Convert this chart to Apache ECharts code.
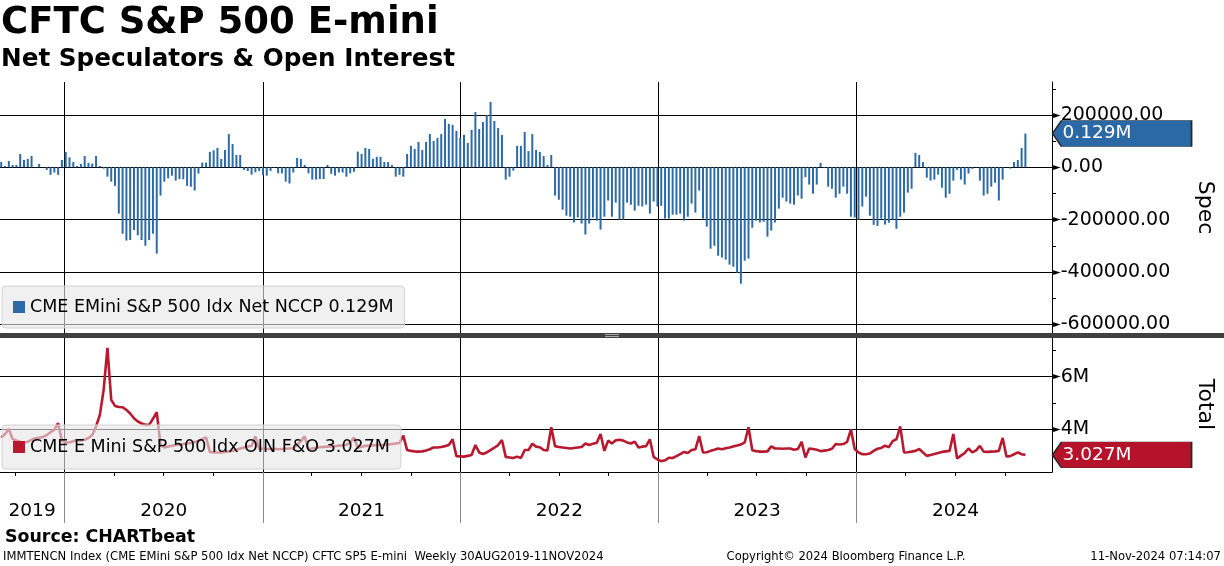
<!DOCTYPE html>
<html><head><meta charset="utf-8">
<script src="https://cdn.jsdelivr.net/npm/echarts@6/dist/echarts.min.js"></script>
<style>html,body{margin:0;padding:0;background:#fff}#c{width:1224px;height:566px}</style>
</head><body><div id="c"></div>
<script>
// ---- data (weekly, Fridays from 6 Sep 2019 to 8 Nov 2024) ----
const firstWeek = [2019, 8, 6];
const specName = 'CME EMini S&P 500 Idx Net NCCP';
const oiName = 'CME E Mini S&P 500 Idx OIN F&O';
const netSpec = [
 20000, 5000, 24000, 9000, 9000, 51000, 28000, 32000, 43000, 1000,
 13000, -1000, -10000, -29000, -20000, -29000, 28000, 59000, 38000, 20000,
 5000, 13000, 43000, 17000, 14000, 43000, 5000, -5000, -36000, -55000,
 -71000, -177000, -254000, -280000, -278000, -240000, -260000, -278000, -300000, -278000,
 -254000, -330000, -108000, -55000, -42000, -32000, -51000, -45000, -46000, -71000,
 -74000, -89000, -24000, 18000, 18000, 59000, 65000, 74000, 32000, 66000,
 127000, 89000, 47000, 47000, -10000, -14000, -28000, -19000, -14000, -29000,
 -32000, -14000, -2000, -23000, -23000, -55000, -62000, -20000, 36000, 32000,
 9000, -23000, -47000, -47000, -45000, -45000, 9000, -25000, -32000, -20000,
 -20000, -36000, -23000, -17000, 60000, 51000, 74000, 70000, 32000, 40000,
 40000, 20000, 20000, 9000, -36000, -29000, -36000, 51000, 82000, 70000,
 97000, 66000, 97000, 127000, 101000, 112000, 127000, 185000, 166000, 162000,
 139000, 112000, 124000, 93000, 143000, 211000, 146000, 173000, 200000, 250000,
 177000, 150000, 124000, -47000, -36000, -13000, 82000, 82000, 135000, 62000,
 127000, 66000, 59000, 43000, 9000, 47000, -108000, -124000, -162000, -185000,
 -189000, -211000, -192000, -215000, -257000, -215000, -192000, -204000, -238000, -189000,
 -127000, -189000, -135000, -200000, -200000, -135000, -143000, -166000, -147000, -150000,
 -143000, -177000, -131000, -150000, -147000, -196000, -196000, -181000, -181000, -177000,
 -204000, -189000, -139000, -173000, -89000, -196000, -227000, -311000, -300000, -338000,
 -345000, -353000, -372000, -380000, -403000, -445000, -357000, -349000, -231000, -204000,
 -211000, -208000, -265000, -242000, -211000, -158000, -116000, -131000, -139000, -143000,
 -108000, -120000, -38000, -66000, -101000, -66000, 17000, -3000, -74000, -82000,
 -116000, -101000, -74000, -101000, -189000, -192000, -200000, -150000, -112000, -185000,
 -220000, -224000, -196000, -219000, -212000, -200000, -235000, -189000, -173000, -97000,
 -82000, 55000, 47000, 20000, -40000, -51000, -47000, -28000, -78000, -116000,
 -101000, -51000, -10000, -47000, -66000, -24000, -6000, -1000, -51000, -108000,
 -101000, -74000, -59000, -127000, -47000, -1000, -5000, 20000, 28000, 74000,
 129000
];
// open interest, millions of contracts
const openInterest = [
 3.69, 3.82, 4.01, 3.63, 3.57, 3.53, 3.50, 3.53, 3.60, 3.66,
 3.68, 3.71, 3.78, 3.89, 3.99, 4.23, 3.57, 3.50, 3.50, 3.55,
 3.58, 3.58, 3.60, 3.67, 3.78, 4.11, 4.55, 5.50, 7.10, 5.12,
 4.89, 4.85, 4.84, 4.74, 4.60, 4.42, 4.30, 4.22, 4.17, 4.17,
 4.40, 4.65, 3.40, 3.31, 3.35, 3.37, 3.40, 3.42, 3.44, 3.46,
 3.48, 3.52, 3.56, 3.62, 3.69, 3.14, 3.12, 3.12, 3.12, 3.14,
 3.16, 3.18, 3.22, 3.27, 3.31, 3.35, 3.37, 3.73, 3.25, 3.27,
 3.25, 3.25, 3.26, 3.24, 3.25, 3.26, 3.27, 3.28, 3.40, 3.55,
 3.73, 3.25, 3.27, 3.30, 3.32, 3.33, 3.34, 3.35, 3.36, 3.38,
 3.39, 3.41, 3.50, 3.69, 3.30, 3.34, 3.37, 3.38, 3.39, 3.40,
 3.40, 3.41, 3.42, 3.44, 3.46, 3.48, 3.76, 3.21, 3.18, 3.16,
 3.15, 3.16, 3.19, 3.24, 3.31, 3.31, 3.33, 3.36, 3.40, 3.62,
 2.98, 2.97, 2.96, 2.99, 3.02, 3.40, 3.12, 3.06, 3.12, 3.21,
 3.30, 3.40, 3.59, 2.95, 2.93, 2.91, 2.96, 2.91, 3.21, 3.21,
 3.45, 3.34, 3.32, 3.21, 3.20, 4.08, 3.36, 3.33, 3.31, 3.29,
 3.27, 3.29, 3.31, 3.33, 3.46, 3.40, 3.45, 3.49, 3.82, 3.18,
 3.57, 3.46, 3.58, 3.60, 3.57, 3.50, 3.46, 3.53, 3.31, 3.34,
 3.36, 3.62, 2.95, 2.85, 2.79, 2.82, 2.92, 2.91, 2.98, 3.06,
 3.14, 3.10, 3.21, 3.24, 3.74, 3.12, 3.13, 3.18, 3.22, 3.27,
 3.24, 3.28, 3.31, 3.35, 3.38, 3.42, 3.50, 4.08, 3.20, 3.17,
 3.15, 3.15, 3.16, 3.35, 3.27, 3.27, 3.26, 3.27, 3.27, 3.22,
 3.25, 3.52, 2.93, 3.27, 3.25, 3.22, 3.17, 3.19, 3.21, 3.26,
 3.44, 3.42, 3.44, 3.52, 3.99, 3.25, 3.12, 3.05, 3.05, 3.08,
 3.18, 3.26, 3.29, 3.38, 3.32, 3.55, 3.62, 4.11, 3.12, 3.13,
 3.15, 3.18, 3.25, 3.12, 2.99, 3.02, 3.06, 3.10, 3.14, 3.16,
 3.18, 3.82, 2.89, 3.00, 3.10, 3.27, 3.12, 3.20, 3.37, 3.15,
 3.14, 3.15, 3.16, 3.18, 3.67, 2.97, 2.98, 3.05, 3.12, 3.05,
 3.027
];
const specLabelValues = [-600000, -400000, -200000, 0, 200000];
const specTickValues = [-600000, -500000, -400000, -300000, -200000, -100000, 0, 100000, 200000, 300000];
const oiLabelValues = [4, 6];
const oiTickValues = [3, 4, 5, 6, 7];
const yearStartList = [2020, 2021, 2022, 2023, 2024];
const yearLabelDates = [[2019, 10, 2], [2020, 6, 2], [2021, 6, 2], [2022, 6, 2], [2023, 6, 2], [2024, 6, 2]];

// ---- build ----
const FONT = 'DejaVu Sans';
const dates = netSpec.map((_, i) => new Date(firstWeek[0], firstWeek[1], firstWeek[2] + 7 * i).getTime());
const xMin = new Date(2019, 8, 3, 18).getTime();
const xMax = new Date(2024, 11, 27, 2).getTime();
const yearStarts = yearStartList.map(y => new Date(y, 0, 1).getTime());
const quarterTicks = [];
for (let y = 2019; y <= 2024; y++) for (let m = 0; m < 12; m += 3) {
  const t = new Date(y, m, 1).getTime();
  if (t > xMin && t < xMax) quarterTicks.push(t);
}
const yearLabelPos = yearLabelDates.map(d => new Date(d[0], d[1], d[2]).getTime());
const lastSpec = netSpec[netSpec.length - 1];
const lastOI = openInterest[openInterest.length - 1];
const specTxt = (lastSpec / 1e6).toFixed(3) + 'M';
const oiTxt = lastOI.toFixed(3) + 'M';
const specMin = -633400, specMax = 326000;
const oiMin = 2.376, oiMax = 7.51;

const tagPath = 'path://M0,13L9,0L139,0L139,26L9,26Z';
function tag(color, text) {
  return {
    silent: true, animation: false,
    symbol: tagPath, symbolSize: [139, 26], symbolOffset: [70, 0],
    itemStyle: { color: color, borderColor: '#2a2a2a', borderWidth: 0.8 },
    label: { show: true, position: [11, 13], align: 'left', verticalAlign: 'middle',
      color: '#fff', fontSize: 18.5, fontFamily: FONT, formatter: text }
  };
}
const gridLine = { color: '#000', width: 1, type: 'solid' };

const chart = echarts.init(document.getElementById('c'), null, { renderer: 'canvas' });
chart.setOption({
  animation: false,
  backgroundColor: '#fff',
  textStyle: { fontFamily: FONT },
  grid: [
    { left: 0, right: 169, top: 82, height: 251 },
    { left: 0, right: 169, top: 337, height: 135 }
  ],
  xAxis: [
    { gridIndex: 0, type: 'value', min: xMin, max: xMax,
      axisLine: { show: false, onZero: false }, axisTick: { show: false }, axisLabel: { show: false }, splitLine: { show: false } },
    { gridIndex: 1, type: 'value', min: xMin, max: xMax, position: 'bottom',
      axisLine: { show: true, onZero: false, lineStyle: { color: '#000', width: 1 } },
      axisTick: { show: true, customValues: quarterTicks, length: 4, lineStyle: { color: '#000', width: 1 } },
      axisLabel: { show: true, customValues: yearLabelPos, formatter: v => String(new Date(v).getFullYear()),
        fontSize: 18.5, color: '#000', margin: 30, fontFamily: FONT, hideOverlap: false },
      splitLine: { show: false } },
    { gridIndex: 1, type: 'value', min: xMin, max: xMax, position: 'bottom',
      axisLine: { show: false, onZero: false },
      axisTick: { show: true, customValues: yearStarts, length: 51, lineStyle: { color: '#8a8a8a', width: 1 } },
      axisLabel: { show: false }, splitLine: { show: false } }
  ],
  yAxis: [
    { gridIndex: 0, type: 'value', position: 'right', min: specMin, max: specMax,
      splitLine: { show: false },
      axisLine: { show: true, onZero: false, lineStyle: { color: '#000', width: 1 } },
      axisTick: { show: true, customValues: specTickValues, length: 4, lineStyle: { color: '#000', width: 1 } },
      axisLabel: { show: true, customValues: specLabelValues, margin: 1, color: '#000', fontSize: 19, fontFamily: FONT,
        formatter: v => '{a|\u25BA}' + v.toFixed(2), rich: { a: { fontSize: 10, color: '#000', fontFamily: FONT } } },
      name: 'Spec', nameLocation: 'middle', nameRotate: -90, nameGap: 142,
      nameTextStyle: { fontSize: 22, color: '#000', fontFamily: FONT } },
    { gridIndex: 1, type: 'value', position: 'right', min: oiMin, max: oiMax,
      splitLine: { show: false },
      axisLine: { show: true, onZero: false, lineStyle: { color: '#000', width: 1 } },
      axisTick: { show: true, customValues: oiTickValues, length: 4, lineStyle: { color: '#000', width: 1 } },
      axisLabel: { show: true, customValues: oiLabelValues, margin: 1, color: '#000', fontSize: 19, fontFamily: FONT,
        formatter: v => '{a|\u25BA}' + v + 'M', rich: { a: { fontSize: 10, color: '#000', fontFamily: FONT } } },
      name: 'Total', nameLocation: 'middle', nameRotate: -90, nameGap: 142,
      nameTextStyle: { fontSize: 22, color: '#000', fontFamily: FONT } }
  ],
  legend: [
    { data: [{ name: specName, icon: 'rect' }], left: 2, top: 286, padding: [12, 11, 12, 11],
      itemWidth: 12, itemHeight: 12, selectedMode: false,
      backgroundColor: 'rgba(230,230,230,0.62)', borderColor: '#d2d2d2', borderWidth: 1, borderRadius: 4,
      textStyle: { fontSize: 17.5, color: '#000', fontFamily: FONT },
      formatter: n => n + ' ' + specTxt },
    { data: [{ name: oiName, icon: 'rect' }], left: 2, top: 425, padding: [13, 11, 13, 11],
      itemWidth: 12, itemHeight: 12, selectedMode: false,
      backgroundColor: 'rgba(230,230,230,0.62)', borderColor: '#d2d2d2', borderWidth: 1, borderRadius: 4,
      textStyle: { fontSize: 17.5, color: '#000', fontFamily: FONT },
      formatter: n => n + ' ' + oiTxt }
  ],
  series: [
    { type: 'bar', name: specName, xAxisIndex: 0, yAxisIndex: 0, barWidth: 2, clip: false,
      itemStyle: { color: '#2d6ba8' },
      data: dates.map((d, i) => [d, netSpec[i]]),
      markLine: { silent: true, animation: false, z: 1, symbol: ['none', 'none'], label: { show: false },
        lineStyle: gridLine, emphasis: { disabled: true },
        data: yearStarts.map(t => ({ xAxis: t })).concat(specLabelValues.map(v => ({ yAxis: v }))) },
      markPoint: Object.assign(tag('#2b69a6', specTxt), { data: [{ coord: [xMax, lastSpec] }] })
    },
    { type: 'line', name: oiName, xAxisIndex: 1, yAxisIndex: 1, showSymbol: false, symbol: 'none', clip: false,
      lineStyle: { color: '#b8192f', width: 2.6 }, itemStyle: { color: '#b8192f' },
      data: dates.map((d, i) => [d, openInterest[i]]),
      markLine: { silent: true, animation: false, z: 1, symbol: ['none', 'none'], label: { show: false },
        lineStyle: gridLine, emphasis: { disabled: true },
        data: yearStarts.map(t => ({ xAxis: t })).concat(oiLabelValues.map(v => ({ yAxis: v }))) },
      markPoint: Object.assign(tag('#b5132b', oiTxt), { data: [{ coord: [xMax, lastOI] }] })
    }
  ],
  graphic: [
    { type: 'rect', shape: { x: 0, y: 333, width: 1224, height: 5 }, style: { fill: '#404040' }, z: 100, silent: true },
    { type: 'rect', shape: { x: 605, y: 334, width: 14, height: 1 }, style: { fill: '#a8a8a8' }, z: 101, silent: true },
    { type: 'rect', shape: { x: 605, y: 336, width: 14, height: 1 }, style: { fill: '#a8a8a8' }, z: 101, silent: true },
    { type: 'text', x: 1, y: 23.5, z: 100, silent: true,
      style: { text: 'CFTC S&P 500 E-mini', font: 'bold 37px "DejaVu Sans"', fill: '#000', verticalAlign: 'middle', align: 'left' } },
    { type: 'text', x: 1, y: 59.5, z: 100, silent: true,
      style: { text: 'Net Speculators & Open Interest', font: 'bold 24.7px "DejaVu Sans"', fill: '#000', verticalAlign: 'middle', align: 'left' } },
    { type: 'text', x: 5, y: 537, z: 100, silent: true,
      style: { text: 'Source: CHARTbeat', font: 'bold 17.4px "DejaVu Sans"', fill: '#000', verticalAlign: 'middle', align: 'left' } },
    { type: 'text', x: 3, y: 557, z: 100, silent: true,
      style: { text: 'IMMTENCN Index (CME EMini S&P 500 Idx Net NCCP) CFTC SP5 E-mini  Weekly 30AUG2019-11NOV2024', font: '11.6px "DejaVu Sans"', fill: '#000', verticalAlign: 'middle', align: 'left' } },
    { type: 'text', x: 846, y: 557, z: 100, silent: true,
      style: { text: 'Copyright\u00A9 2024 Bloomberg Finance L.P.', font: '11.6px "DejaVu Sans"', fill: '#000', verticalAlign: 'middle', align: 'center' } },
    { type: 'text', x: 1221, y: 557, z: 100, silent: true,
      style: { text: '11-Nov-2024 07:14:07', font: '11.6px "DejaVu Sans"', fill: '#000', verticalAlign: 'middle', align: 'right' } }
  ]
});
</script>
</body></html>
